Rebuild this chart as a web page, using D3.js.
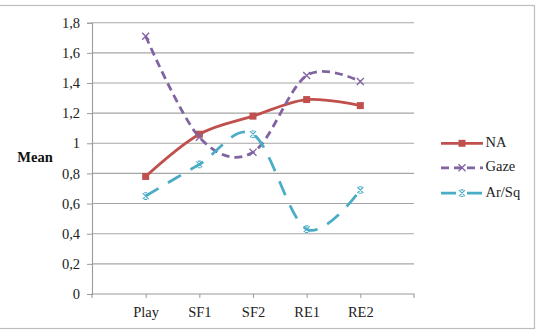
<!DOCTYPE html>
<html>
<head>
<meta charset="utf-8">
<script src="https://cdn.jsdelivr.net/npm/d3@7"></script>
<style>
  html, body { margin: 0; padding: 0; background: #fff; }
  svg, svg text { font-family: "Liberation Serif", "Times New Roman", serif !important; }
</style>
</head>
<body>
<svg id="chart" width="540" height="330"></svg>
<script>
const categories = ["Play", "SF1", "SF2", "RE1", "RE2"];
const seriesNames = ["NA", "Gaze", "Ar/Sq"];
const naValues = [0.78, 1.06, 1.18, 1.29, 1.25];
const gazeValues = [1.71, 1.04, 0.94, 1.45, 1.41];
const arsqValues = [0.65, 0.86, 1.06, 0.43, 0.69];
const yTicks = [0, 0.2, 0.4, 0.6, 0.8, 1, 1.2, 1.4, 1.6, 1.8];
const yTitle = "Mean";

(function () {
const series = [
  { name: seriesNames[0], values: naValues, color: "#C0504D", dash: null, marker: "square" },
  { name: seriesNames[1], values: gazeValues, color: "#8064A2", dash: "8,5", marker: "x" },
  { name: seriesNames[2], values: arsqValues, color: "#4BACC6", dash: "15,11", marker: "star" }
];

const svg = d3.select("#chart");
const pLeft = 92, pRight = 414, pTop = 22.7, pBottom = 294;

// outer border
svg.append("rect").attr("x", -2).attr("y", 5.5).attr("width", 536.5).attr("height", 323)
  .attr("fill", "none").attr("stroke", "#bdbdbd").attr("stroke-width", 1.2);

const x = d3.scalePoint().domain(categories).range([pLeft, pRight]).padding(1);
const y = d3.scaleLinear().domain([0, 1.8]).range([pBottom, pTop]);

const fmt = v => String(v).replace(".", ",");

// gridlines
svg.append("g").selectAll("line").data(yTicks.filter(d => d > 0)).join("line")
  .attr("x1", pLeft).attr("x2", pRight)
  .attr("y1", d => y(d)).attr("y2", d => y(d))
  .attr("stroke", "#a6a6a6").attr("stroke-width", 1.1);

// y axis
const yAxis = svg.append("g").attr("transform", `translate(${pLeft},0)`)
  .call(d3.axisLeft(y).tickValues(yTicks).tickFormat(fmt).tickSize(5).tickPadding(7));
yAxis.attr("font-family", null).attr("font-size", null);
yAxis.select(".domain").attr("stroke", "#9a9a9a").attr("stroke-width", 1.1);
yAxis.selectAll(".tick line").attr("stroke", "#9a9a9a");
yAxis.selectAll("text").style("font-size", "14.5px").attr("fill", "#222");

// x axis
const xAxis = svg.append("g").attr("transform", `translate(0,${pBottom})`)
  .call(d3.axisBottom(x).tickSize(4).tickPadding(9));
xAxis.attr("font-family", null).attr("font-size", null);
xAxis.select(".domain").attr("stroke", "#9a9a9a").attr("stroke-width", 1.1)
  .attr("d", `M${pLeft},4V0H${pRight}V4`);
xAxis.selectAll(".tick line").attr("stroke", "#9a9a9a");
xAxis.selectAll("text").style("font-size", "14.5px").attr("fill", "#222");

// y title
svg.append("text").attr("x", 35).attr("y", 159).attr("text-anchor", "middle")
  .attr("dominant-baseline", "middle").attr("font-weight", "bold")
  .style("font-size", "14.5px").attr("fill", "#111").text(yTitle);

function drawMarker(g, type, cx, cy, color) {
  if (type === "square") {
    g.append("rect").attr("x", cx - 3.5).attr("y", cy - 3.5).attr("width", 7).attr("height", 7)
      .attr("fill", color);
  } else if (type === "x") {
    const s = 3.5;
    g.append("path").attr("d", `M${cx - s},${cy - s}L${cx + s},${cy + s}M${cx - s},${cy + s}L${cx + s},${cy - s}`)
      .attr("stroke", color).attr("stroke-width", 1.3).attr("fill", "none");
  } else {
    const s = 3;
    g.append("path").attr("d", `M${cx - s},${cy - s}L${cx + s},${cy + s}M${cx - s},${cy + s}L${cx + s},${cy - s}M${cx - 1.5},${cy - s - 0.3}L${cx + 1.5},${cy - s - 0.3}M${cx - 1.5},${cy + s + 0.3}L${cx + 1.5},${cy + s + 0.3}`)
      .attr("stroke", color).attr("stroke-width", 1.1).attr("fill", "none");
  }
}

const line = d3.line()
  .x((d, i) => x(categories[i]))
  .y(d => y(d))
  .curve(d3.curveCardinal.tension(0));

series.forEach(s => {
  const g = svg.append("g");
  g.append("path").datum(s.values).attr("d", line)
    .attr("fill", "none").attr("stroke", s.color).attr("stroke-width", 2.8)
    .attr("stroke-dasharray", s.dash);
  s.values.forEach((v, i) => drawMarker(g, s.marker, x(categories[i]), y(v), s.color));
});

// legend
const legY = [143.3, 167.8, 193.2];
series.forEach((s, i) => {
  const g = svg.append("g");
  g.append("line").attr("x1", 441).attr("x2", 483).attr("y1", legY[i]).attr("y2", legY[i])
    .attr("stroke", s.color).attr("stroke-width", 2.8)
    .attr("stroke-dasharray", s.dash);
  drawMarker(g, s.marker, 462, legY[i], s.color);
  g.append("text").attr("x", 485.5).attr("y", legY[i]).attr("dominant-baseline", "middle")
    .style("font-size", "14.5px").attr("fill", "#222").text(s.name);
});
})();
</script>
</body>
</html>
